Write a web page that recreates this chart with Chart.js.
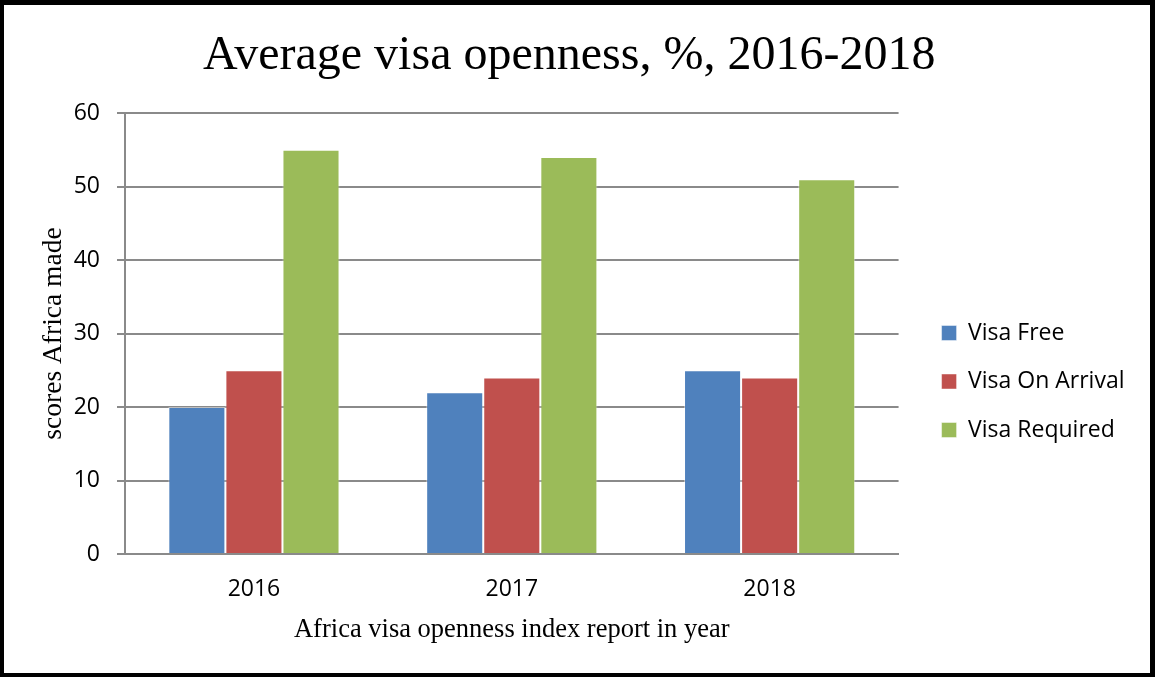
<!DOCTYPE html>
<html>
<head>
<meta charset="utf-8">
<script src="https://cdn.jsdelivr.net/npm/chart.js@4"></script>
<style>
  html, body { margin: 0; padding: 0; background: #fff; }
  #frame {
    box-sizing: border-box;
    width: 1155px;
    height: 677px;
    border-style: solid;
    border-color: #000;
    border-width: 5px 5px 4px 4px;
    position: relative;
  }
  #wrap { position: absolute; left: 0; top: 0; width: 1146px; height: 668px; }
</style>
</head>
<body>
<div id="frame"><div id="wrap"><canvas id="visaChart"></canvas></div></div>
<script>
// chart data
const years = ['2016', '2017', '2018'];
const visaFree = [20, 22, 25];
const visaOnArrival = [25, 24, 24];
const visaRequired = [55, 54, 51];
const yTicks = [0, 10, 20, 30, 40, 50, 60];

const gridGray = '#8a8a8a';
const sans = "'Open Sans', sans-serif";
const serif = "'Liberation Serif', 'Times New Roman', serif";

const ctx = document.getElementById('visaChart').getContext('2d');

new Chart(ctx, {
    type: 'bar',
    data: {
        labels: years,
        datasets: [
            { label: 'Visa Free', data: visaFree, backgroundColor: '#4F81BD' },
            { label: 'Visa On Arrival', data: visaOnArrival, backgroundColor: '#C0504D' },
            { label: 'Visa Required', data: visaRequired, backgroundColor: '#9BBB59' }
        ]
    },
    options: {
        responsive: true,
        maintainAspectRatio: false,
        animation: false,
        datasets: {
            bar: {
                categoryPercentage: 0.664,
                barPercentage: 1,
                borderWidth: 1,
                borderColor: 'rgba(255,255,255,0.45)'
            }
        },
        layout: { padding: { left: 0, right: 15.5, top: 0, bottom: 0 } },
        plugins: {
            title: {
                display: true,
                text: 'Average visa openness, %, 2016-2018',
                color: '#000',
                font: { family: serif, size: 48, weight: 'normal', lineHeight: 1.2 },
                padding: { top: 23, bottom: 27.4 }
            },
            legend: {
                position: 'right',
                fullSize: false,
                maxWidth: 400,
                // empty title only pushes the legend rows down a bit
                title: { display: true, text: '', font: { size: 10, lineHeight: 1.2 }, padding: { top: 84, bottom: 0 } },
                labels: {
                    boxWidth: 15,
                    boxHeight: 15,
                    padding: 25.5,
                    color: '#000',
                    font: { family: sans, size: 23 }
                }
            },
            tooltip: { enabled: false }
        },
        scales: {
            x: {
                grid: { display: false, drawTicks: false },
                border: { display: true, color: gridGray, width: 2 },
                ticks: { color: '#000', padding: 22, font: { family: sans, size: 23 } },
                title: {
                    display: true,
                    text: 'Africa visa openness index report in year',
                    color: '#000',
                    font: { family: serif, size: 26.5, lineHeight: 1.2 },
                    padding: { top: 10, bottom: 27 }
                },
                afterFit: (scale) => { scale.height = 119; }
            },
            y: {
                min: 0,
                max: 60,
                afterBuildTicks: (scale) => {
                    scale.ticks = yTicks.map(v => ({ value: v }));
                },
                grid: { color: gridGray, lineWidth: 2, tickLength: 8 },
                border: { display: true, color: gridGray, width: 2 },
                ticks: { color: '#000', padding: 17, font: { family: sans, size: 23 } },
                title: {
                    display: true,
                    text: 'scores Africa made',
                    color: '#000',
                    font: { family: serif, size: 27.5, lineHeight: 1.2 },
                    padding: { top: 33.5, bottom: 3 }
                },
                afterFit: (scale) => { scale.width = 121; }
            },
            // blank gap between plot area and legend
            spacer: {
                type: 'linear',
                position: 'right',
                display: true,
                grid: { display: false },
                border: { display: false },
                ticks: { display: false },
                afterFit: (scale) => { scale.width = 17.5; }
            }
        }
    }
});
</script>
</body>
</html>
